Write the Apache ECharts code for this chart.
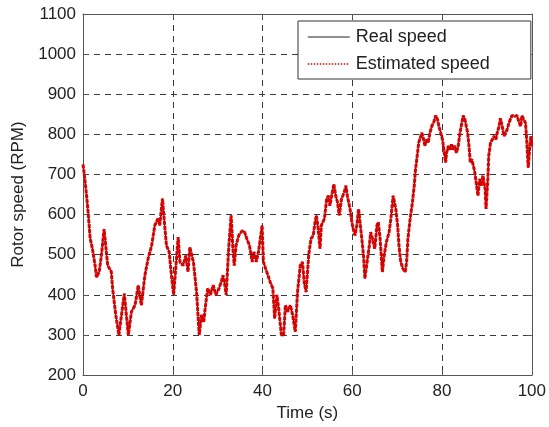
<!DOCTYPE html>
<html>
<head>
<meta charset="utf-8">
<script src="https://cdn.jsdelivr.net/npm/echarts@6/dist/echarts.min.js"></script>
<style>
  html, body { margin: 0; padding: 0; background: #fff; }
  #chart { width: 549px; height: 427px; }
</style>
</head>
<body>
<div id="chart"></div>
<script>
// Sample times (s)
const timeSec = [
  0.0, 0.4, 0.8, 1.2, 1.6, 2.1, 2.7, 3.0, 3.6, 4.1, 4.7, 5.5, 6.3, 6.6, 7.3, 8.0, 9.2, 10.1, 10.8, 11.6,
  12.3, 13.0, 13.8, 14.5, 15.3, 16.0, 16.7, 17.1, 17.7, 18.2, 18.6, 19.2, 19.7, 20.2, 21.2, 21.6, 22.3, 22.9, 23.4, 23.8,
  24.6, 25.3, 25.9, 26.2, 26.4, 26.9, 27.3, 27.8, 28.4, 29.0, 29.6, 30.3, 30.8, 31.2, 31.6, 31.9, 32.5, 33.0, 33.4, 33.7,
  34.1, 34.7, 35.5, 36.0, 36.5, 37.1, 37.7, 38.1, 38.6, 39.1, 39.6, 39.9, 40.2, 40.7, 41.2, 41.7, 42.3, 42.7, 43.2, 43.6,
  44.2, 44.7, 45.1, 45.6, 46.2, 46.7, 47.3, 47.8, 48.4, 48.9, 49.3, 49.7, 50.3, 50.8, 51.3, 51.7, 52.0, 52.4, 52.8, 53.1,
  53.8, 54.3, 54.7, 55.0, 55.4, 55.9, 56.3, 56.7, 57.1, 57.6, 58.2, 58.6, 58.9, 59.5, 59.9, 60.2, 60.6, 61.0, 61.4, 61.8,
  62.2, 62.5, 62.8, 63.3, 63.8, 64.1, 64.5, 65.0, 65.5, 65.8, 66.2, 66.7, 67.1, 67.6, 68.2, 68.6, 69.1, 69.7, 70.1, 70.4,
  70.8, 71.3, 71.8, 72.1, 72.4, 72.8, 73.4, 73.8, 74.1, 74.5, 74.8, 75.5, 75.9, 76.2, 76.5, 76.9, 77.3, 77.7, 78.2, 78.6,
  79.0, 79.3, 79.7, 80.1, 80.4, 80.8, 81.0, 81.4, 81.7, 82.1, 82.4, 82.8, 83.2, 83.6, 84.0, 84.4, 84.7, 85.1, 85.4, 85.7,
  86.0, 86.3, 86.6, 87.0, 87.3, 87.6, 88.0, 88.4, 88.8, 89.1, 89.6, 89.8, 90.2, 90.4, 90.8, 91.2, 91.6, 92.0, 92.3, 92.7,
  93.0, 93.4, 93.8, 94.2, 94.5, 94.9, 95.3, 95.6, 96.2, 96.7, 97.1, 97.5, 97.8, 98.2, 98.6, 98.9, 99.2, 99.5, 99.8, 100.0
];

// Measured rotor speed (RPM)
const realSpeed = [
  725, 690, 647, 598, 540, 515, 473, 444, 457, 498, 564, 473, 458, 416, 350, 300, 403, 300, 358, 374,
  424, 374, 449, 490, 523, 573, 590, 573, 640, 573, 523, 507, 449, 400, 544, 482, 473, 498, 457, 519,
  482, 407, 300, 300, 350, 333, 374, 416, 400, 424, 400, 416, 432, 449, 424, 400, 523, 598, 515, 473,
  523, 548, 560, 556, 540, 523, 482, 507, 482, 507, 548, 573, 482, 465, 449, 432, 416, 341, 400, 366,
  300, 300, 374, 358, 374, 350, 308, 407, 473, 482, 430, 407, 500, 540, 548, 581, 598, 565, 515, 573,
  590, 640, 647, 622, 647, 676, 647, 631, 598, 639, 656, 672, 647, 614, 581, 565, 548, 573, 614, 573,
  532, 498, 440, 482, 523, 556, 540, 515, 573, 581, 540, 457, 498, 532, 556, 590, 647, 614, 573, 523,
  482, 465, 457, 482, 540, 581, 631, 672, 714, 750, 779, 804, 787, 771, 787, 779, 804, 820, 832, 847,
  837, 820, 804, 787, 762, 730, 754, 771, 762, 775, 762, 771, 754, 771, 804, 828, 847, 837, 820, 804,
  771, 730, 738, 721, 705, 680, 647, 689, 672, 697, 664, 614, 689, 746, 779, 787, 796, 787, 804, 820,
  840, 820, 796, 804, 812, 828, 840, 847, 845, 847, 832, 820, 847, 847, 828, 779, 717, 762, 796, 770
];

// Observer output tracks the measured speed on this scale
const estimatedSpeed = realSpeed;

const xTicks = [0, 20, 40, 60, 80, 100];
const yTicks = [200, 300, 400, 500, 600, 700, 800, 900, 1000, 1100];

const FONT = '"Liberation Sans", Arial, Helvetica, sans-serif';
const REAL_COLOR = '#222';
const EST_COLOR = '#e00000';
const pairs = (ys) => timeSec.map((t, i) => [t, ys[i]]);

const gridDash = { color: '#3a3a3a', width: 1, type: [6, 5] };
const boxLine = { show: true, onZero: false, lineStyle: { color: '#555', width: 1 } };
const inTick = { show: true, inside: true, length: 5, lineStyle: { color: '#555' } };

const chart = echarts.init(document.getElementById('chart'), null, { renderer: 'canvas' });
chart.setOption({
  animation: false,
  backgroundColor: '#fff',
  color: [REAL_COLOR, EST_COLOR],
  textStyle: { fontFamily: FONT },
  grid: { left: 83, right: 16, top: 14, bottom: 50, containLabel: false },
  legend: {
    orient: 'vertical',
    left: 298,
    top: 21,
    backgroundColor: '#fff',
    borderColor: '#333',
    borderWidth: 1,
    borderRadius: 0,
    padding: [7, 41, 6, 9],
    itemGap: 9,
    itemWidth: 42,
    itemHeight: 14,
    itemStyle: { opacity: 0 },
    textStyle: { fontFamily: FONT, fontSize: 18, color: '#222', padding: [0, 0, 0, 1] },
    data: [
      { name: 'Real speed', itemStyle: { opacity: 0 }, lineStyle: { color: REAL_COLOR, width: 1, type: 'solid' } },
      { name: 'Estimated speed', itemStyle: { opacity: 0 }, lineStyle: { color: EST_COLOR, width: 1.5, type: [1.5, 1.5] } }
    ]
  },
  xAxis: [
    {
      type: 'value', min: 0, max: 100, interval: 20, position: 'bottom',
      name: 'Time (s)', nameLocation: 'middle', nameGap: 27,
      nameTextStyle: { fontFamily: FONT, fontSize: 17, color: '#222' },
      axisLine: boxLine, axisTick: inTick,
      axisLabel: { fontFamily: FONT, fontSize: 17, color: '#222', margin: 8,
        formatter: (v) => xTicks.includes(v) ? String(v) : '' },
      splitLine: { show: true, lineStyle: gridDash }
    },
    {
      type: 'value', min: 0, max: 100, interval: 20, position: 'top',
      axisLine: boxLine, axisTick: inTick, axisLabel: { show: false }, splitLine: { show: false }
    }
  ],
  yAxis: [
    {
      type: 'value', min: 200, max: 1100, interval: 100, position: 'left',
      name: 'Rotor speed (RPM)', nameLocation: 'middle', nameGap: 56,
      nameTextStyle: { fontFamily: FONT, fontSize: 17, color: '#222' },
      axisLine: boxLine, axisTick: inTick,
      axisLabel: { fontFamily: FONT, fontSize: 17, color: '#222', margin: 7,
        formatter: (v) => yTicks.includes(v) ? String(v) : '' },
      splitLine: { show: true, lineStyle: gridDash }
    },
    {
      type: 'value', min: 200, max: 1100, interval: 100, position: 'right',
      axisLine: boxLine, axisTick: inTick, axisLabel: { show: false }, splitLine: { show: false }
    }
  ],
  series: [
    {
      name: 'Real speed', type: 'line', xAxisIndex: 0, yAxisIndex: 0,
      data: pairs(realSpeed), showSymbol: false, symbol: 'none',
      itemStyle: { color: REAL_COLOR },
      lineStyle: { color: REAL_COLOR, width: 1.2 }, z: 3
    },
    {
      name: 'Estimated speed', type: 'line', xAxisIndex: 0, yAxisIndex: 0,
      data: pairs(estimatedSpeed), showSymbol: false, symbol: 'none',
      itemStyle: { color: EST_COLOR },
      lineStyle: { color: EST_COLOR, width: 3, type: [4, 1] }, z: 4
    }
  ]
});
</script>
</body>
</html>
